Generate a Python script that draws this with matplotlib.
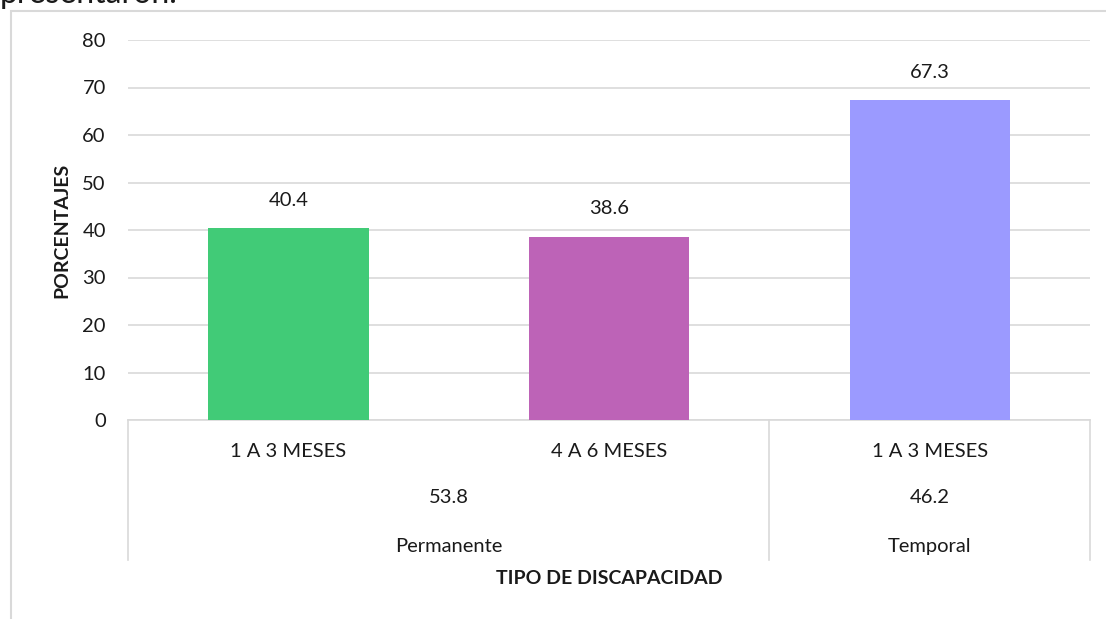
import matplotlib.pyplot as plt
from matplotlib.patches import Rectangle

subcats = ["1 A 3 MESES", "4 A 6 MESES", "1 A 3 MESES"]
values = [40.4, 38.6, 67.3]
colors = ["#41CB77", "#BD63B7", "#9B9AFF"]
groups = ["Permanente", "Temporal"]
group_vals = ["53.8", "46.2"]
group_pos = [0.5, 2]
bounds = [-0.5, 1.5, 2.5]

plt.rcParams['font.family'] = ['Lato', 'DejaVu Sans']
grid_c = "#D9D9D9"
txt_c = "#1a1a1a"
fs = 14.5

fig = plt.figure(figsize=(11.06, 6.19), dpi=100)
W, H = 1106, 619
ax = fig.add_axes([128 / W, (H - 420) / H, (1090 - 128) / W, 380 / H])

x = list(range(len(values)))
ax.bar(x, values, width=0.5, color=colors, zorder=3)
for xi, v in zip(x, values):
    ax.annotate(f"{v}", (xi, v), xytext=(0, 20), textcoords="offset points",
                ha="center", va="center", fontsize=fs, color=txt_c)

ax.set_xlim(-0.5, 2.5)
ax.set_ylim(0, 80)
ax.set_yticks(range(0, 81, 10))
ax.yaxis.grid(True, color=grid_c, linewidth=1.2, zorder=0)
ax.tick_params(axis="y", length=0, pad=16, labelsize=fs, labelcolor=txt_c)
ax.set_xticks([])
for s in ["top", "right", "left"]:
    ax.spines[s].set_visible(False)
ax.spines["bottom"].set_color(grid_c)
ax.spines["bottom"].set_linewidth(1.2)

# multi-level category table
tr = ax.get_xaxis_transform()
for b in bounds:
    ax.plot([b, b], [0, -0.368], transform=tr, color=grid_c, lw=1.2, clip_on=False)
for xi, lab in zip(x, subcats):
    ax.text(xi, -0.084, lab, transform=tr, ha="center", va="center",
            fontsize=fs, color=txt_c)
for gp, gv, gl in zip(group_pos, group_vals, groups):
    ax.text(gp, -0.205, gv, transform=tr, ha="center", va="center",
            fontsize=fs, color=txt_c)
    ax.text(gp, -0.332, gl, transform=tr, ha="center", va="center",
            fontsize=fs, color=txt_c)

ax.text(0.5, -0.416, "TIPO DE DISCAPACIDAD", transform=ax.transAxes,
        ha="center", va="center", fontsize=14, fontweight="bold", color=txt_c)
fig.text(62 / W, 1 - 230 / H, "PORCENTAJES", rotation=90, ha="center",
         va="center", fontsize=14, fontweight="bold", color=txt_c)

# outer chart frame (cut off at right and bottom)
fig.patches.append(Rectangle((11 / W, -0.1), 1.2, 1 - 11 / H + 0.1,
                             transform=fig.transFigure, fill=False,
                             edgecolor=grid_c, linewidth=1.5))
fig.text(0.0, 1 - 3 / H, "presentaron.", ha="left", va="baseline",
         fontsize=23, color=txt_c)

fig.savefig("out.png", dpi=100)
